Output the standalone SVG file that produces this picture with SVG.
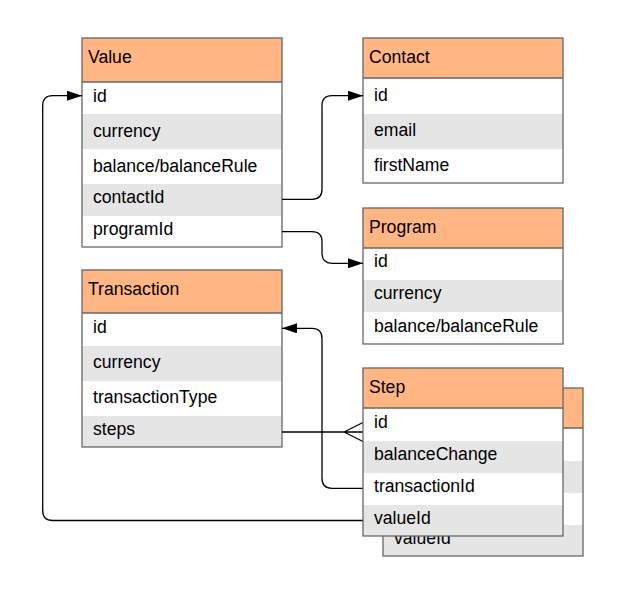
<svg xmlns="http://www.w3.org/2000/svg" width="623" height="592" viewBox="0 0 623 592">
<style>
text{font-family:"Liberation Sans",Arial,sans-serif;font-size:17.6px;fill:#000}
.hd{fill:#ffb683}
.wr{fill:#fff}
.gr{fill:#e5e5e5}
.bd{fill:none;stroke:#666;stroke-width:1.3}
.ln{fill:none;stroke:#000;stroke-width:1.3}
</style>
<defs>
<marker id="arr" viewBox="0 0 15 10" refX="15" refY="5" markerWidth="15" markerHeight="10" markerUnits="userSpaceOnUse" orient="auto">
<path d="M0,0 L15,5 L0,10 Z" fill="#000"/>
</marker>
</defs>
<rect width="623" height="592" fill="#fff"/>

<g id="value">
<rect class="hd" x="82" y="38" width="200" height="44"/>
<rect class="wr" x="82" y="82" width="200" height="32"/>
<rect class="gr" x="82" y="114" width="200" height="35"/>
<rect class="wr" x="82" y="149" width="200" height="35"/>
<rect class="gr" x="82" y="184" width="200" height="32"/>
<rect class="wr" x="82" y="216" width="200" height="31"/>
<line class="bd" x1="82" y1="82" x2="282" y2="82"/>
<rect class="bd" x="82" y="38" width="200" height="209"/>
<text x="88" y="63.3">Value</text>
<text x="93" y="101.7">id</text>
<text x="93" y="137">currency</text>
<text x="93" y="171.7">balance/balanceRule</text>
<text x="93" y="203.3">contactId</text>
<text x="93" y="235">programId</text>
</g>

<g id="contact">
<rect class="hd" x="363" y="38" width="200" height="40"/>
<rect class="wr" x="363" y="78" width="200" height="36"/>
<rect class="gr" x="363" y="114" width="200" height="35"/>
<rect class="wr" x="363" y="149" width="200" height="34"/>
<line class="bd" x1="363" y1="78" x2="563" y2="78"/>
<rect class="bd" x="363" y="38" width="200" height="145"/>
<text x="369" y="62.7">Contact</text>
<text x="374" y="100.7">id</text>
<text x="374" y="136">email</text>
<text x="374" y="170.7">firstName</text>
</g>

<g id="program">
<rect class="hd" x="363" y="208" width="200" height="40"/>
<rect class="wr" x="363" y="248" width="200" height="32"/>
<rect class="gr" x="363" y="280" width="200" height="32"/>
<rect class="wr" x="363" y="312" width="200" height="32"/>
<line class="bd" x1="363" y1="248" x2="563" y2="248"/>
<rect class="bd" x="363" y="208" width="200" height="136"/>
<text x="369" y="232.5">Program</text>
<text x="374" y="267.3">id</text>
<text x="374" y="299.3">currency</text>
<text x="374" y="331.7">balance/balanceRule</text>
</g>

<g id="transaction">
<rect class="hd" x="82" y="270" width="200" height="43"/>
<rect class="wr" x="82" y="313" width="200" height="33"/>
<rect class="gr" x="82" y="346" width="200" height="35"/>
<rect class="wr" x="82" y="381" width="200" height="35"/>
<rect class="gr" x="82" y="416" width="200" height="31"/>
<line class="bd" x1="82" y1="313" x2="282" y2="313"/>
<rect class="bd" x="82" y="270" width="200" height="177"/>
<text x="88" y="295.3">Transaction</text>
<text x="93" y="333.3">id</text>
<text x="93" y="368.3">currency</text>
<text x="93" y="402.7">transactionType</text>
<text x="93" y="435">steps</text>
</g>

<g id="step-back">
<rect class="hd" x="383" y="388" width="200" height="40"/>
<rect class="wr" x="383" y="428" width="200" height="33"/>
<rect class="gr" x="383" y="461" width="200" height="32"/>
<rect class="wr" x="383" y="493" width="200" height="32"/>
<rect class="gr" x="383" y="525" width="200" height="31"/>
<line class="bd" x1="383" y1="428" x2="583" y2="428"/>
<rect class="bd" x="383" y="388" width="200" height="168"/>
<text x="394" y="544">valueId</text>
</g>

<g id="connectors">
<path class="ln" d="M282,199.3 H312 Q322,199.3 322,189.3 V105.7 Q322,95.7 332,95.7 H363" marker-end="url(#arr)"/>
<path class="ln" d="M282,231.7 H312 Q322,231.7 322,241.7 V253.3 Q322,263.3 332,263.3 H363" marker-end="url(#arr)"/>
<path class="ln" d="M363,488.3 H332 Q322,488.3 322,478.3 V338.3 Q322,328.3 312,328.3 H282" marker-end="url(#arr)"/>
<path class="ln" d="M282,432 H363 M344,432 L363,422.5 M344,432 L363,441.5"/>
<path class="ln" d="M363,520.5 H52.7 Q42.7,520.5 42.7,510.5 V105.7 Q42.7,95.7 52.7,95.7 H82" marker-end="url(#arr)"/>
</g>

<g id="step">
<rect class="hd" x="363" y="368" width="200" height="40"/>
<rect class="wr" x="363" y="408" width="200" height="33"/>
<rect class="gr" x="363" y="441" width="200" height="32"/>
<rect class="wr" x="363" y="473" width="200" height="32"/>
<rect class="gr" x="363" y="505" width="200" height="31"/>
<line class="bd" x1="363" y1="408" x2="563" y2="408"/>
<rect class="bd" x="363" y="368" width="200" height="168"/>
<text x="369" y="393.3">Step</text>
<text x="374" y="427.7">id</text>
<text x="374" y="460">balanceChange</text>
<text x="374" y="491.7">transactionId</text>
<text x="374" y="524">valueId</text>
</g>
</svg>
